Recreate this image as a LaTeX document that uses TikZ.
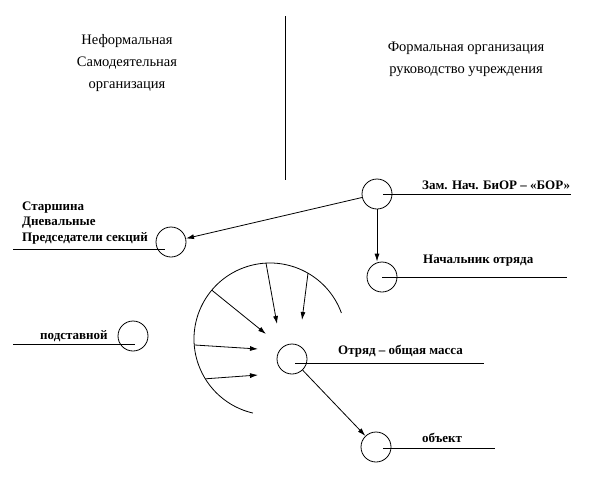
\documentclass[tikz,border=0pt]{standalone}
\usepackage{fontspec}
\setmainfont{Liberation Serif}
\usetikzlibrary{positioning,arrows.meta}

\begin{document}
\begin{tikzpicture}[
		x=1pt, y=-1pt,
		% Define styles for nodes
		post/.style={
				draw,
				circle,
				minimum size=30pt,
				inner sep=0pt,
				line width=0.8pt
			},
		posttitle/.style={
				font=\fontsize{14.5}{22}\selectfont,
				align=center
			},
		postlabel/.style={
				font=\fontsize{13}{15.5}\selectfont\bfseries,
				align=left,
				inner sep=0pt
			},
		baseline/.style={
				line width=0.8pt
			},
		arrow/.style={
				-{Latex[length=8pt,width=5pt]},
				line width=0.8pt
			}
	]

	% Page frame
	\useasboundingbox (0,0) rectangle (589,496);

	% Titles and divider
	\node[posttitle] (informal) at (127,63) {Неформальная\\Самодеятельная\\организация};
	\node[posttitle] (formal) at (466,59) {Формальная организация\\руководство учреждения};
	\coordinate (divtop) at (285,16);
	\coordinate (divbot) at (285,180);
	\draw[baseline] (divtop) -- (divbot);

	% Formal side
	\node[post] (zam) at (377,194) {};
	\node[postlabel, anchor=west] (zamlabel) at (422,185) {Зам. Нач. БиОР -- «БОР»};
	\coordinate (zamend) at (571,194);

	\node[post] (nach) at (382,277) {};
	\node[postlabel, anchor=west] (nachlabel) at (423,261) {Начальник отряда};
	\coordinate (nachend) at (567,277);

	% Informal side
	\node[post] (starshina) at (171,242) {};
	\node[postlabel, anchor=west] (starshinalabel) at (22,223) {Старшина\\Дневальные\\Председатели секций};
	\coordinate (starstart) at (13,249);
	\coordinate (starend) at (165,249);

	\node[post] (podst) at (133,336) {};
	\node[postlabel, anchor=west] (podstlabel) at (40,336) {подставной};
	\coordinate (podststart) at (13,344);
	\coordinate (podstend) at (135,344);

	% Mass and object
	\node[post] (otryad) at (292,359) {};
	\node[postlabel, anchor=west] (otryadlabel) at (338,351) {Отряд -- общая масса};
	\coordinate (otryadend) at (484,363);

	\node[post] (obekt) at (376,447) {};
	\node[postlabel, anchor=west] (obektlabel) at (422,438) {объект};
	\coordinate (obektend) at (495,448);

	% Base lines under labels
	\draw[baseline] ([xshift=6pt]zam.center) -- (zamend);
	\draw[baseline] (nach.center) -- (nachend);
	\draw[baseline] (starstart) -- (starend);
	\draw[baseline] (podststart) -- (podstend);
	\draw[baseline] ([xshift=3pt,yshift=-4pt]otryad.center) -- (otryadend);
	\draw[baseline] ([xshift=7pt,yshift=-1pt]obekt.center) -- (obektend);

	% Influence arc round the mass
	\coordinate (arcc) at (270,339);
	\draw[baseline] (arcc) ++(-20:76) arc[start angle=-20, end angle=-257, radius=76];

	% Spokes from the arc
	\path (arcc) ++(-93:76) coordinate (s1);
	\path (arcc) ++(-60:76) coordinate (s2);
	\path (arcc) ++(-140:76) coordinate (s3);
	\path (arcc) ++(-184.5:76) coordinate (s4);
	\path (arcc) ++(-211.6:76) coordinate (s5);
	\coordinate (e1) at (277,324);
	\coordinate (e2) at (302,320);
	\coordinate (e3) at (266,334);
	\coordinate (e4) at (258,349);
	\coordinate (e5) at (258,375);
	\draw[arrow] (s1) -- (e1);
	\draw[arrow] (s2) -- (e2);
	\draw[arrow] (s3) -- (e3);
	\draw[arrow] (s4) -- (e4);
	\draw[arrow] (s5) -- (e5);

	% ARROWS: chain of command
	\draw[arrow] (zam) -- (starshina);
	\draw[arrow] (zam.south) -- (zam.south |- nach.north);
	\draw[arrow] (otryad) -- (obekt);

\end{tikzpicture}
\end{document}
